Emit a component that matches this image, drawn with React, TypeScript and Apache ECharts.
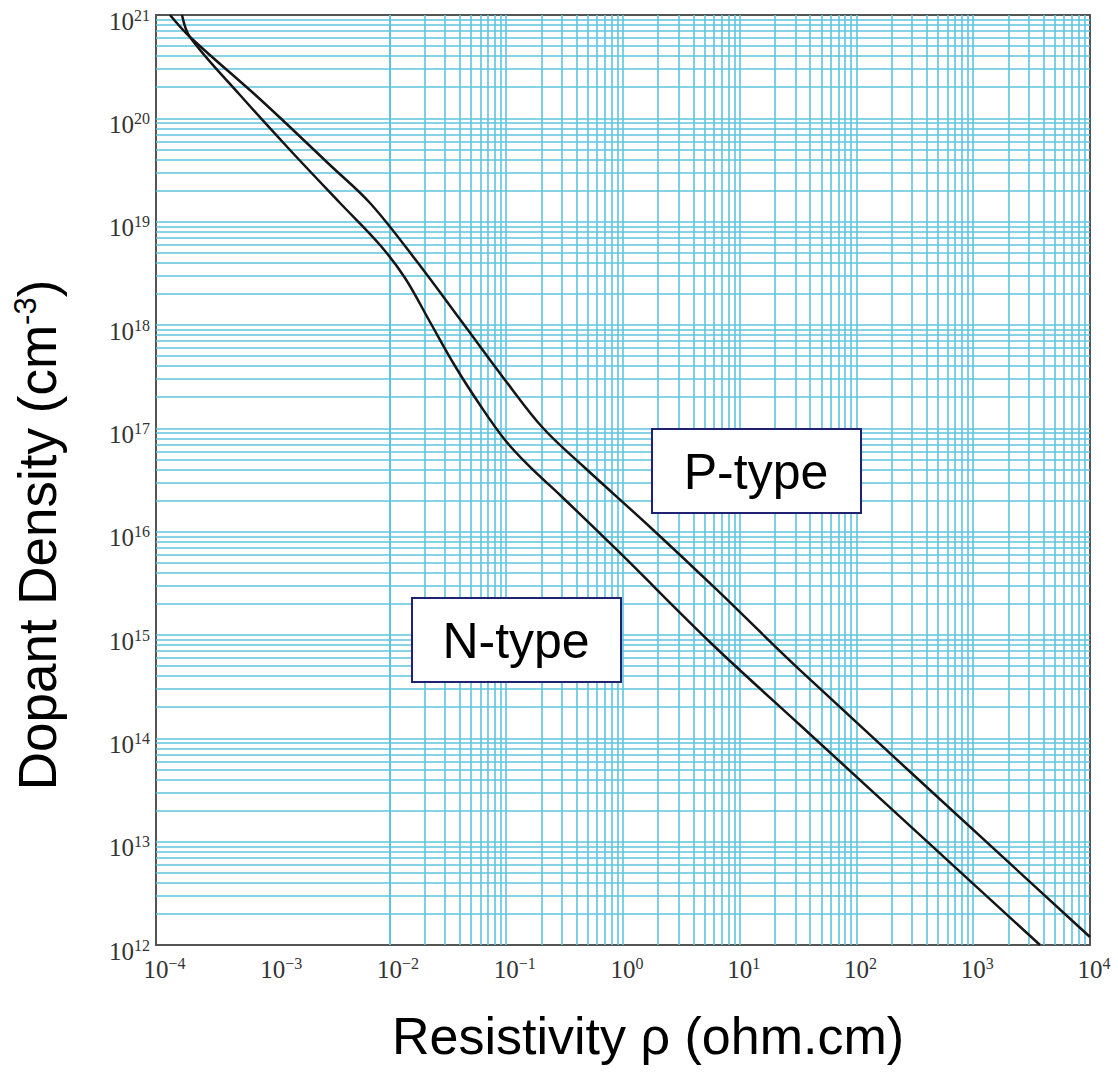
import React, { useEffect, useRef } from "react";
import * as echarts from "echarts";

// Resistivity (ohm.cm) vs dopant density (cm^-3)
const nRho = [1.67e-4, 1.954e-4, 5.24e-4, 1.405e-3, 3.77e-3, 8.29e-3, 1.358e-2, 2.223e-2, 3.64e-2, 5.96e-2, 9.76e-2, 0.1597, 0.2887, 0.888, 5.9, 32.8, 3730];
const nDens = [1e21, 6.13e20, 1.682e20, 4.94e19, 1.516e19, 5.95e18, 2.85e18, 1.069e18, 4.01e17, 1.682e17, 7.71e16, 4.23e16, 2.263e16, 6.65e15, 8.0e14, 1.346e14, 1e12];
const pRho = [1.318e-4, 1.954e-4, 8.09e-4, 3.09e-3, 6.81e-3, 1.653e-2, 4.18e-2, 9.76e-2, 0.2064, 0.454, 1.703, 6.385, 32.8, 1e4];
const pDens = [1e21, 6.13e20, 1.472e20, 3.535e19, 1.516e19, 4.35e18, 1.069e18, 2.94e17, 1.007e17, 4.32e16, 1.11e16, 2.73e15, 4.58e14, 1.195e12];

const xExpMin = -4;
const xExpMax = 4;
const yExpMin = 12;
const yExpMax = 21;

const xTitle = "Resistivity \u03c1 (ohm.cm)";
const yTitleMain = "Dopant Density (cm";
const yTitleSup = "-3";
const pLabel = "P-type";
const nLabel = "N-type";

function logGridValues(eMin: number, eMax: number): number[] {
  const out: number[] = [];
  for (let e = eMin; e < eMax; e++) {
    for (let m = 1; m <= 9; m++) {
      if (e === eMin && m === 1) continue;
      out.push(Number((m * Math.pow(10, e)).toPrecision(3)));
    }
  }
  return out;
}

function supOf(v: number): string {
  const e = Math.round(Math.log10(v));
  return e < 0 ? "\u2212" + -e : String(e);
}

export default function App() {
  const ref = useRef<HTMLDivElement>(null);
  useEffect(() => {
    if (!ref.current) return;
    const chart = echarts.init(ref.current, undefined, { renderer: "svg" });
    const gridColor = "#5fc4de";
    const serif = "Liberation Serif";
    const sans = "Liberation Sans";
    const labelRich = {
      b: { fontFamily: serif, fontSize: 25, color: "#333", lineHeight: 26 },
      s: { fontFamily: serif, fontSize: 16, color: "#333", padding: [0, 0, 12, 0], verticalAlign: "bottom" },
      h: { fontFamily: serif, fontSize: 16, color: "transparent", padding: [0, 0, 12, 0], verticalAlign: "bottom" },
    };
    const vLines = logGridValues(xExpMin, xExpMax).map((v) => ({ xAxis: v }));
    const hLines = logGridValues(yExpMin, yExpMax).map((v) => ({ yAxis: v }));
    chart.setOption({
      animation: false,
      backgroundColor: "#fff",
      grid: {
        left: 156,
        top: 15,
        right: 28,
        bottom: 127,
        show: true,
        borderColor: "#555",
        borderWidth: 2,
        backgroundColor: "#fff",
      },
      xAxis: {
        type: "log",
        logBase: 10,
        min: Math.pow(10, xExpMin),
        max: Math.pow(10, xExpMax),
        splitNumber: xExpMax - xExpMin,
        axisLine: { show: true, lineStyle: { color: "#555", width: 2 } },
        axisTick: { show: false },
        splitLine: { show: false },
        axisLabel: {
          margin: 10,
          formatter: (v: number) => {
            const s = supOf(v);
            return `{h|${s}}{b|10}{s|${s}}`;
          },
          rich: labelRich,
        },
      },
      yAxis: {
        type: "log",
        logBase: 10,
        min: Math.pow(10, yExpMin),
        max: Math.pow(10, yExpMax),
        splitNumber: yExpMax - yExpMin,
        axisLine: { show: true, lineStyle: { color: "#555", width: 2 } },
        axisTick: { show: false },
        splitLine: { show: false },
        axisLabel: {
          margin: 6,
          padding: [12, 0, 0, 0],
          formatter: (v: number) => `{b|10}{s|${supOf(v)}}`,
          rich: labelRich,
        },
      },
      series: [
        {
          type: "line",
          name: "grid",
          data: [],
          silent: true,
          z: 1,
          markLine: {
            silent: true,
            z: 1,
            symbol: ["none", "none"],
            label: { show: false },
            emphasis: { disabled: true },
            lineStyle: { color: gridColor, width: 1.6, type: "solid" },
            data: [...vLines, ...hLines],
          },
        },
        {
          type: "line",
          name: "N-type",
          data: nRho.map((r, i) => [r, nDens[i]]),
          showSymbol: false,
          smooth: 0.35,
          z: 6,
          lineStyle: { color: "#151515", width: 2.5 },
        },
        {
          type: "line",
          name: "P-type",
          data: pRho.map((r, i) => [r, pDens[i]]),
          showSymbol: false,
          smooth: 0.35,
          z: 6,
          lineStyle: { color: "#151515", width: 2.5 },
        },
      ],
      graphic: [
        {
          type: "text",
          x: 648,
          y: 1036,
          style: {
            text: xTitle,
            font: `52px "${sans}"`,
            fill: "#000",
            align: "center",
            verticalAlign: "middle",
          },
        },
        {
          type: "text",
          x: 37,
          y: 535,
          rotation: Math.PI / 2,
          style: {
            text: `{t|${yTitleMain}}{s|${yTitleSup}}{t|)}`,
            align: "center",
            verticalAlign: "middle",
            rich: {
              t: { fontFamily: sans, fontSize: 53, fill: "#000", lineHeight: 58 },
              s: { fontFamily: sans, fontSize: 31, fill: "#000", padding: [0, 0, 25, 0], verticalAlign: "bottom" },
            },
          },
        },
        {
          type: "group",
          children: [
            {
              type: "rect",
              shape: { x: 652, y: 429, width: 209, height: 84 },
              style: { fill: "#fff", stroke: "#1f2270", lineWidth: 2 },
              z: 10,
            },
            {
              type: "text",
              x: 756,
              y: 472,
              z: 11,
              style: { text: pLabel, font: `50px "${sans}"`, fill: "#000", align: "center", verticalAlign: "middle" },
            },
            {
              type: "rect",
              shape: { x: 412, y: 598, width: 209, height: 84 },
              style: { fill: "#fff", stroke: "#1f2270", lineWidth: 2 },
              z: 10,
            },
            {
              type: "text",
              x: 516,
              y: 641,
              z: 11,
              style: { text: nLabel, font: `50px "${sans}"`, fill: "#000", align: "center", verticalAlign: "middle" },
            },
          ],
        },
      ],
    });
    return () => chart.dispose();
  }, []);
  return (
    <div
      ref={ref}
      style={{ position: "absolute", left: 0, top: 0, width: 1118, height: 1072 }}
    />
  );
}
